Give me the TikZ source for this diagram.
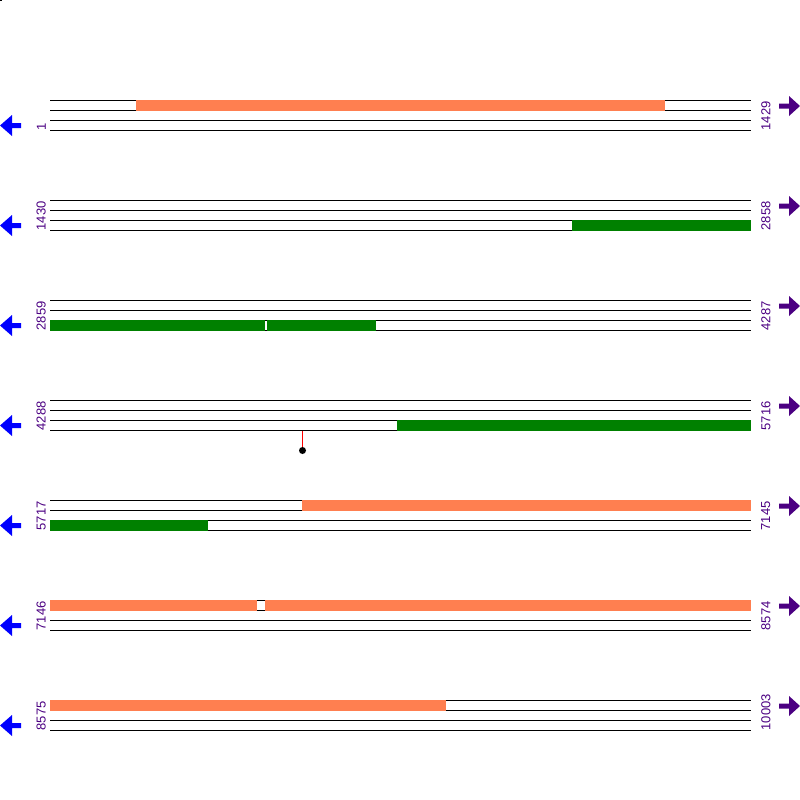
\documentclass[tikz,border=0pt]{standalone}
\usepackage{fontspec}
\setmainfont{Liberation Sans}
\definecolor{coralbar}{HTML}{FF7F50}
\definecolor{greenbar}{HTML}{008000}
\definecolor{labcol}{HTML}{4B0082}
\definecolor{leftarr}{HTML}{0000FF}
\tikzset{
  track/.style={line width=1pt, black},
  lablft/.style={rotate=90, anchor=south west, inner sep=0pt, text=labcol, font=\fontsize{13}{13}\selectfont},
  labrgt/.style={rotate=90, anchor=north west, inner sep=0pt, text=labcol, font=\fontsize{13}{13}\selectfont},
  orangebar/.style={fill=coralbar, draw=none},
  greenbox/.style={fill=greenbar, draw=none},
}
\begin{document}
\begin{tikzpicture}[x=1pt,y=-1pt]
\useasboundingbox (0,0) rectangle (800,800);
\fill[black] (0,0) rectangle (1.5,1.5);
% tracks, labels and arrows
\foreach \r/\a/\b in {1/1/1429,2/1430/2858,3/2859/4287,4/4288/5716,5/5717/7145,6/7146/8574,7/8575/10003}{
  \pgfmathsetmacro\yy{100*\r}
  \foreach \k in {0,10,20,30}{
    \draw[track] (50,\yy+\k+0.5) -- (751,\yy+\k+0.5);
  }
  \node[lablft] (L\r) at (46,\yy+30.5) {\a};
  \node[labrgt] (R\r) at (761,\yy+30.5) {\b};
  \fill[leftarr] (0,\yy+25.5) -- (12,\yy+15) -- (12,\yy+23) -- (21,\yy+23) -- (21,\yy+28) -- (12,\yy+28) -- (12,\yy+36) -- cycle;
  \fill[labcol] (800,\yy+6) -- (789,\yy-4) -- (789,\yy+3.5) -- (779,\yy+3.5) -- (779,\yy+8.5) -- (789,\yy+8.5) -- (789,\yy+16) -- cycle;
}
% feature bars
\fill[orangebar] (136,100) rectangle (665,111);
\fill[greenbox] (572,220) rectangle (751,231);
\fill[greenbox] (50,320) rectangle (265,331);
\fill[greenbox] (267,320) rectangle (376,331);
\fill[greenbox] (397,420) rectangle (751,431);
\fill[orangebar] (302,500) rectangle (751,511);
\fill[greenbox] (50,520) rectangle (208,531);
\fill[orangebar] (50,600) rectangle (257,611);
\fill[orangebar] (265,600) rectangle (751,611);
\fill[orangebar] (50,700) rectangle (446,711);
% lollipop
\coordinate (lpA) at (302.5,431);
\node[circle, fill=black, inner sep=0pt, minimum size=7pt] (lpB) at (302.5,450.5) {};
\draw[red, line width=1pt] (lpA) -- (lpB);
\end{tikzpicture}
\end{document}
